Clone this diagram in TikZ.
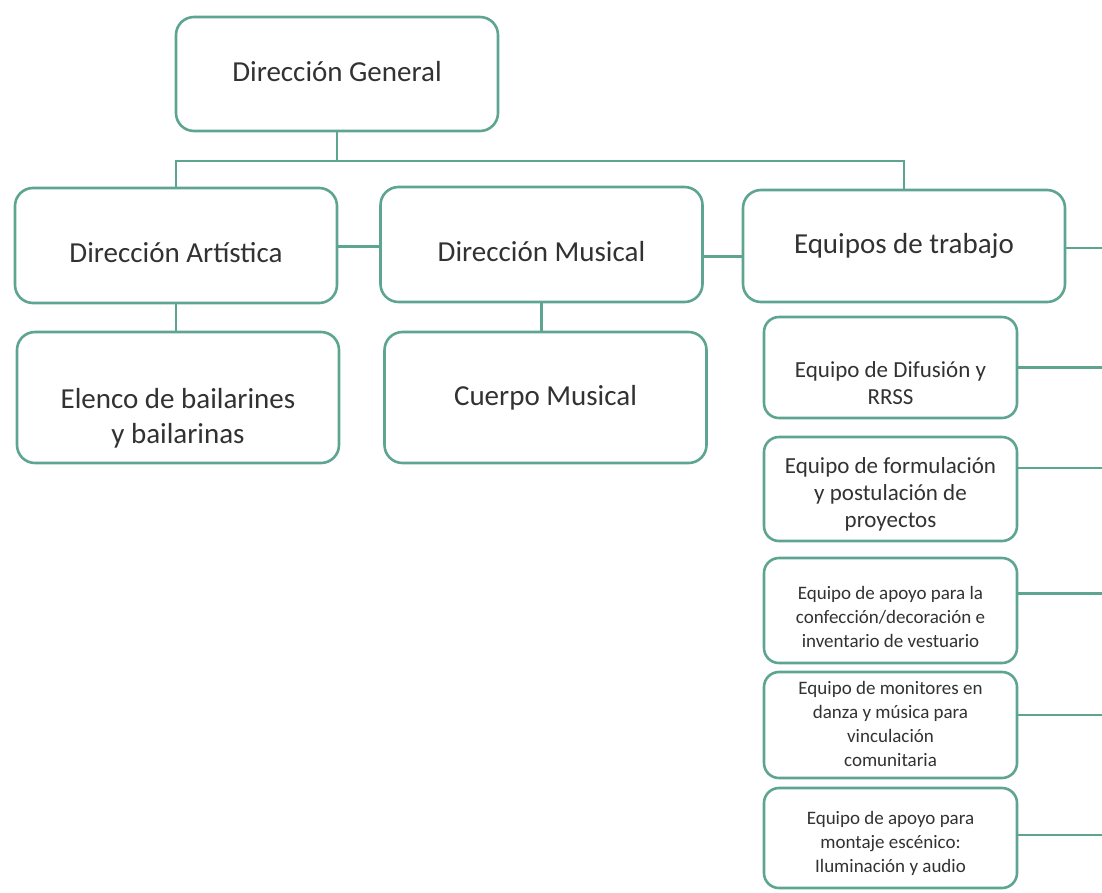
\documentclass[tikz,border=0pt]{standalone}
\usepackage{fontspec}
\setmainfont{Carlito}
\usetikzlibrary{calc}
\definecolor{tealline}{RGB}{94,165,145}
\definecolor{txtgrey}{RGB}{50,50,50}
\newcommand\tx[2]{\raisebox{#1}[\height][\depth]{\begin{tabular}{@{}c@{}}#2\end{tabular}}}
\begin{document}
\begin{tikzpicture}[x=1pt,y=-1pt,
  box/.style={draw=tealline, line width=2.6pt, rounded corners=18pt, fill=white, text=txtgrey, inner sep=0pt, anchor=center},
  big/.style={box, minimum width=322pt, font=\fontsize{29}{35}\selectfont},
  small/.style={box, rounded corners=15pt, minimum width=253pt, font=\fontsize{23}{27}\selectfont},
  tiny/.style={box, rounded corners=15pt, minimum width=253pt, font=\fontsize{19}{24}\selectfont},
  link/.style={draw=tealline, line width=2.8pt}]
\useasboundingbox (0,0) rectangle (1102,892);
\fill[white] (0,0) rectangle (1102,892);

\node[big, minimum height=114pt] (dg) at (337,74) {\tx{0pt}{Dirección General}};
\node[big, minimum height=115pt] (da) at (176,245.5) {\tx{-10pt}{Dirección Artística}};
\node[big, minimum height=115pt] (dm) at (541.5,244.5) {\tx{-10pt}{Dirección Musical}};
\node[big, minimum height=112pt] (eq) at (904,246) {\tx{0pt}{Equipos de trabajo}};
\node[big, minimum height=131pt] (el) at (178,397.5) {\tx{-21pt}{Elenco de bailarines\\y bailarinas}};
\node[big, minimum height=131pt] (cm) at (545.5,397.5) {\tx{-1pt}{Cuerpo Musical}};

\node[small, minimum height=101pt] (e1) at (890.5,367.5) {\tx{-18pt}{Equipo de Difusión y\\RRSS}};
\node[small, minimum height=104pt] (e2) at (890.5,489) {\tx{-6pt}{Equipo de formulación\\y postulación de\\proyectos}};
\node[tiny, minimum height=105pt] (e3) at (890.5,610.5) {\tx{-8pt}{Equipo de apoyo para la\\confección/decoración e\\inventario de vestuario}};
\node[tiny, minimum height=106pt] (e4) at (890.5,725) {\tx{-1pt}{Equipo de monitores en\\danza y música para\\vinculación\\comunitaria}};
\node[tiny, minimum height=100pt] (e5) at (890.5,838) {\tx{-6pt}{Equipo de apoyo para\\montaje escénico:\\Iluminación y audio}};

\coordinate (bus) at (337,161);
\coordinate (rx) at (1102,0);

\draw[link] (dg.south) -- (dg.south |- bus);
\draw[link] (da.north) -- (da.north |- bus) -- (eq.north |- bus) -- (eq.north);
\draw[link] ([yshift=-1pt]da.east) -- ([yshift=-1pt]da.east -| dm.west);
\draw[link] ([yshift=-12pt]dm.east) -- ([yshift=-12pt]dm.east -| eq.west);
\draw[link] ([yshift=-2pt]eq.east) -- ([yshift=-2pt]eq.east -| rx);
\draw[link] (da.south) -- (da.south |- el.north);
\draw[link] (dm.south) -- (dm.south |- cm.north);
\draw[link] (e1.east) -- (e1.east -| rx);
\draw[link] ([yshift=21pt]e2.east) -- ([yshift=21pt]e2.east -| rx);
\draw[link] ([yshift=17pt]e3.east) -- ([yshift=17pt]e3.east -| rx);
\draw[link] ([yshift=10pt]e4.east) -- ([yshift=10pt]e4.east -| rx);
\draw[link] ([yshift=3pt]e5.east) -- ([yshift=3pt]e5.east -| rx);
\end{tikzpicture}
\end{document}
